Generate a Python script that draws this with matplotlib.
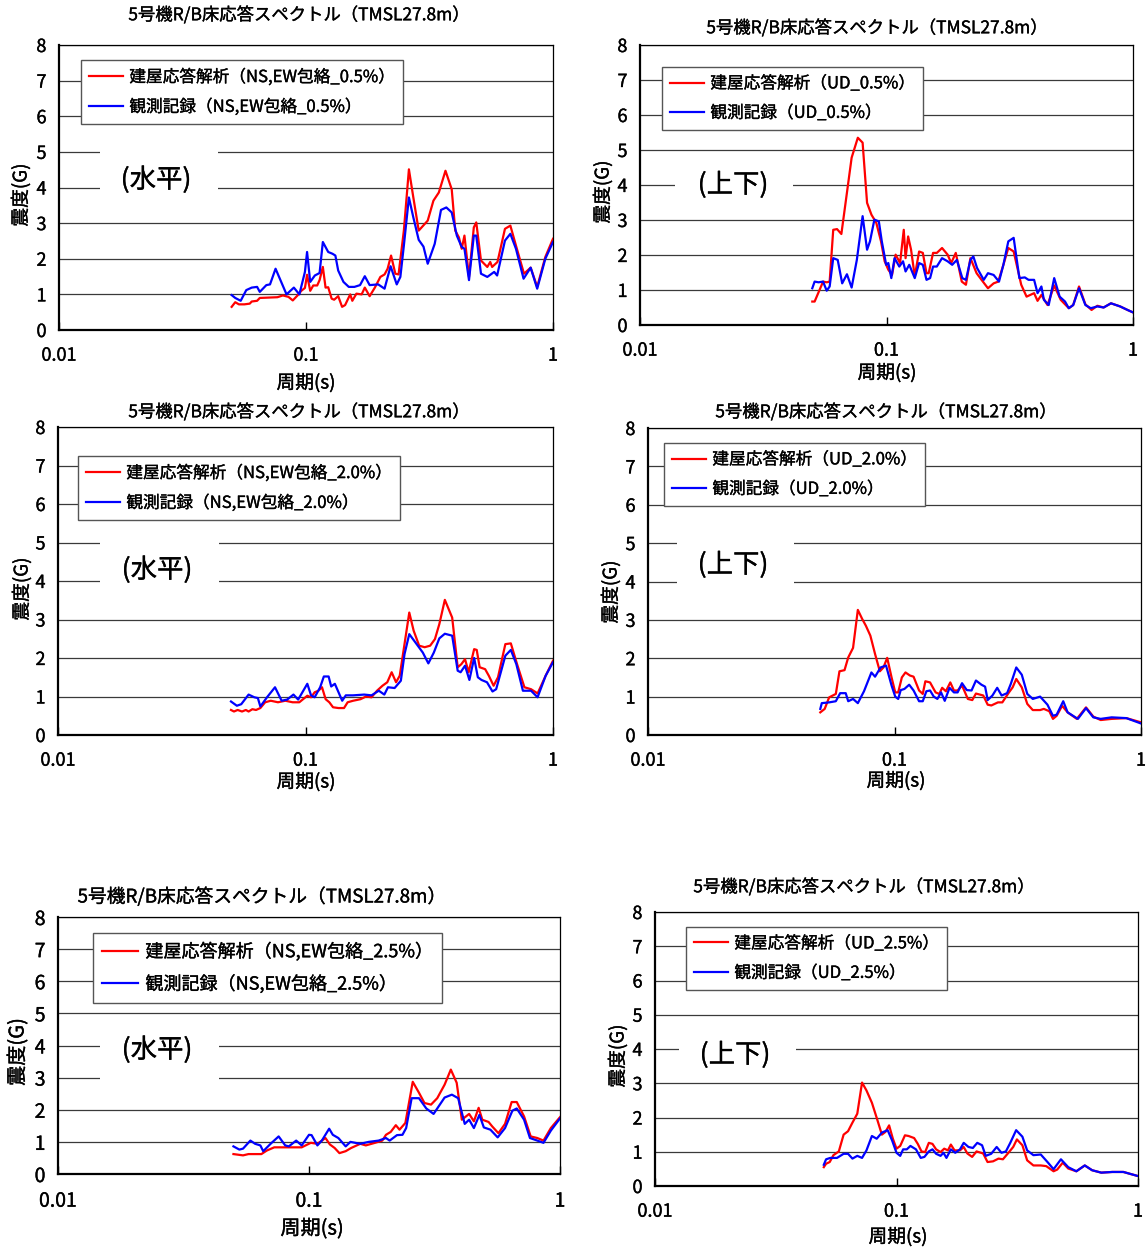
import matplotlib
matplotlib.use("Agg")
import matplotlib.pyplot as plt
import matplotlib.patheffects as pe
from matplotlib.patches import Rectangle
from matplotlib.ticker import NullLocator
from matplotlib.text import Text

plt.rcParams['font.family'] = ['Noto Sans CJK JP', 'DejaVu Sans']

# === Floor response spectra, R/B TMSL27.8m (period [s] -> acceleration [G]) ===

# horizontal, 0.5% damping
h05_ana_T = [0.05, 0.0517, 0.0535, 0.0563, 0.0592, 0.0603, 0.0634, 0.065, 0.0766, 0.0806,
             0.0849, 0.0884, 0.0924, 0.0957, 0.099, 0.101, 0.104, 0.107, 0.111, 0.1135,
             0.117, 0.120, 0.123, 0.127, 0.130, 0.135, 0.140, 0.144, 0.151, 0.154,
             0.160, 0.168, 0.173, 0.181, 0.190, 0.200, 0.208, 0.214, 0.221, 0.230,
             0.237, 0.249, 0.261, 0.272, 0.286, 0.311, 0.328, 0.345, 0.367, 0.389,
             0.402, 0.416, 0.427, 0.438, 0.457, 0.478, 0.489, 0.511, 0.542, 0.557,
             0.567, 0.596, 0.639, 0.672, 0.708, 0.763, 0.812, 0.863, 0.931, 1.0]
h05_ana = [0.65, 0.78, 0.72, 0.72, 0.74, 0.8, 0.82, 0.9, 0.92, 0.97,
           0.93, 0.83, 0.97, 1.1, 1.18, 1.55, 1.1, 1.25, 1.25, 1.4,
           1.77, 1.19, 1.2, 0.88, 0.85, 0.95, 0.65, 0.70, 1.0, 0.82,
           1.02, 1.0, 1.19, 0.95, 1.19, 1.49, 1.56, 1.72, 2.09, 1.58,
           1.56, 2.79, 4.51, 3.72, 2.79, 3.07, 3.63, 3.86, 4.47, 3.95,
           2.79, 2.6, 2.28, 2.65, 1.49, 2.88, 3.02, 1.95, 1.77, 1.91,
           1.77, 1.91, 2.84, 2.93, 2.37, 1.58, 1.75, 1.21, 2.05, 2.56]
h05_obs_T = [0.05, 0.0517, 0.0544, 0.0573, 0.0603, 0.0634, 0.065, 0.0691, 0.0715, 0.0753,
             0.0834, 0.0893, 0.094, 0.099, 0.101, 0.104, 0.1086, 0.1135, 0.117, 0.123,
             0.128, 0.1315, 0.135, 0.1418, 0.149, 0.157, 0.1655, 0.173, 0.181, 0.196,
             0.208, 0.220, 0.233, 0.241, 0.249, 0.261, 0.272, 0.286, 0.299, 0.311,
             0.332, 0.352, 0.370, 0.389, 0.408, 0.427, 0.438, 0.457, 0.478, 0.489,
             0.511, 0.542, 0.578, 0.594, 0.639, 0.672, 0.708, 0.760, 0.812, 0.863,
             0.931, 1.0]
h05_obs = [0.98, 0.9, 0.82, 1.12, 1.19, 1.21, 1.07, 1.26, 1.28, 1.72,
           1.0, 1.19, 1.0, 1.63, 2.19, 1.35, 1.53, 1.6, 2.47, 2.19,
           2.14, 2.09, 1.67, 1.35, 1.21, 1.21, 1.26, 1.51, 1.26, 1.28,
           1.16, 1.79, 1.28, 1.49, 2.37, 3.72, 3.16, 2.53, 2.34, 1.86,
           2.42, 3.37, 3.44, 3.3, 2.65, 2.33, 2.28, 1.4, 2.65, 2.65,
           1.58, 1.49, 1.63, 1.53, 2.51, 2.7, 2.28, 1.44, 1.75, 1.16,
           2.0, 2.47]

# vertical, 0.5% damping
v05_ana_T = [0.05, 0.0511, 0.0553, 0.0572, 0.0588, 0.0608, 0.063, 0.0656, 0.0691, 0.0722,
             0.0765, 0.080, 0.0834, 0.0869, 0.0909, 0.095, 0.0983, 0.1017, 0.1053, 0.1089,
             0.1135, 0.1175, 0.1195, 0.1224, 0.1258, 0.1302, 0.1356, 0.1404, 0.1453, 0.1483,
             0.1545, 0.160, 0.168, 0.177, 0.183, 0.191, 0.202, 0.210, 0.219, 0.232,
             0.243, 0.258, 0.272, 0.284, 0.298, 0.312, 0.328, 0.352, 0.370, 0.397,
             0.410, 0.425, 0.450, 0.479, 0.509, 0.549, 0.572, 0.604, 0.641, 0.679,
             0.717, 0.760, 0.814, 0.887, 0.950, 1.0]
v05_ana = [0.67, 0.67, 1.24, 1.22, 1.24, 2.72, 2.74, 2.60, 3.78, 4.78,
           5.35, 5.21, 3.49, 3.15, 2.92, 2.39, 1.82, 1.58, 1.43, 2.01,
           1.77, 2.72, 1.91, 2.53, 2.15, 1.39, 2.10, 2.06, 1.48, 1.48,
           2.06, 2.06, 2.20, 2.01, 1.77, 2.06, 1.24, 1.15, 1.91, 1.48,
           1.29, 1.05, 1.19, 1.24, 1.72, 2.20, 2.10, 1.15, 0.81, 0.91,
           0.69, 0.86, 0.57, 1.13, 0.72, 0.48, 0.57, 1.10, 0.59, 0.43,
           0.55, 0.50, 0.62, 0.53, 0.43, 0.36]
v05_obs_T = [0.05, 0.0511, 0.053, 0.0553, 0.0572, 0.0588, 0.0608, 0.0634, 0.0661, 0.0691,
             0.0722, 0.0758, 0.080, 0.0834, 0.0857, 0.0893, 0.0931, 0.0957, 0.0997, 0.1017,
             0.1046, 0.1078, 0.1127, 0.1167, 0.1195, 0.1237, 0.1302, 0.1356, 0.1404, 0.1453,
             0.1503, 0.1545, 0.160, 0.168, 0.177, 0.1847, 0.193, 0.203, 0.210, 0.219,
             0.225, 0.233, 0.248, 0.258, 0.272, 0.286, 0.298, 0.312, 0.328, 0.346,
             0.364, 0.377, 0.397, 0.410, 0.425, 0.435, 0.455, 0.479, 0.504, 0.530,
             0.549, 0.572, 0.604, 0.641, 0.674, 0.717, 0.760, 0.814, 0.887, 0.950,
             1.0]
v05_obs = [1.05, 1.24, 1.22, 1.24, 0.98, 1.10, 1.91, 1.86, 1.19, 1.45,
           1.07, 1.86, 3.11, 2.15, 2.39, 3.01, 2.96, 2.39, 1.72, 1.77,
           1.34, 1.91, 1.67, 1.82, 1.53, 1.72, 1.34, 1.77, 1.72, 1.29,
           1.34, 1.67, 1.67, 1.91, 1.82, 1.72, 1.86, 1.34, 1.29, 1.86,
           1.96, 1.63, 1.29, 1.48, 1.43, 1.24, 1.72, 2.39, 2.49, 1.34,
           1.36, 1.29, 1.29, 0.91, 1.10, 0.72, 0.57, 1.34, 0.81, 0.67,
           0.48, 0.57, 1.05, 0.57, 0.48, 0.53, 0.50, 0.62, 0.53, 0.43,
           0.36]

# horizontal, 2.0% damping
h20_ana_T = [0.05, 0.0514, 0.0532, 0.0554, 0.0574, 0.0589, 0.061, 0.0631, 0.0657, 0.0687,
             0.0724, 0.0774, 0.0829, 0.0887, 0.0944, 0.1017, 0.1053, 0.1089, 0.1127, 0.1166,
             0.1206, 0.1248, 0.1292, 0.1359, 0.1431, 0.148, 0.1558, 0.1668, 0.1756, 0.1848,
             0.1945, 0.2047, 0.214, 0.2229, 0.2322, 0.2403, 0.2512, 0.2626, 0.2735, 0.2879,
             0.303, 0.3189, 0.3334, 0.3473, 0.3656, 0.3914, 0.412, 0.4263, 0.4411, 0.4563,
             0.4802, 0.4918, 0.5054, 0.5319, 0.5503, 0.5754, 0.5995, 0.6419, 0.6755, 0.7158,
             0.7665, 0.815, 0.8665, 0.934, 1.0]
h20_ana = [0.65, 0.61, 0.65, 0.61, 0.65, 0.61, 0.67, 0.65, 0.70, 0.85,
           0.89, 0.85, 0.89, 0.85, 0.85, 1.02, 0.98, 1.11, 1.15, 1.24,
           0.93, 0.85, 0.72, 0.70, 0.70, 0.85, 0.89, 0.93, 1.0, 0.98,
           1.15, 1.28, 1.37, 1.63, 1.37, 1.54, 2.36, 3.18, 2.71, 2.32,
           2.28, 2.32, 2.49, 2.88, 3.51, 3.05, 1.76, 1.84, 1.97, 1.63,
           2.23, 2.21, 1.76, 1.71, 1.54, 1.28, 1.5, 2.36, 2.38, 1.84,
           1.24, 1.19, 1.08, 1.54, 1.93]
h20_obs_T = [0.05, 0.0528, 0.055, 0.0589, 0.0621, 0.0642, 0.0657, 0.0699, 0.0753, 0.0801,
             0.0843, 0.0894, 0.0934, 0.1017, 0.1053, 0.1089, 0.1146, 0.1186, 0.124, 0.127,
             0.1314, 0.1407, 0.1455, 0.1558, 0.1726, 0.1848, 0.1978, 0.2082, 0.2154, 0.2291,
             0.2428, 0.2512, 0.2626, 0.2783, 0.2979, 0.3136, 0.3299, 0.3473, 0.3656, 0.3914,
             0.412, 0.4234, 0.4411, 0.4594, 0.4802, 0.4969, 0.5141, 0.5411, 0.5696, 0.5893,
             0.6419, 0.6755, 0.711, 0.7558, 0.815, 0.8665, 0.934, 1.0]
h20_obs = [0.87, 0.76, 0.80, 1.05, 0.98, 0.96, 0.74, 0.98, 1.24, 0.89,
           0.92, 1.05, 0.92, 1.33, 1.03, 0.98, 1.24, 1.52, 1.52, 1.26,
           1.33, 0.89, 1.03, 1.03, 1.05, 1.03, 1.15, 1.05, 1.24, 1.22,
           1.41, 2.10, 2.62, 2.40, 2.14, 1.86, 2.14, 2.51, 2.63, 2.58,
           1.67, 1.63, 1.80, 1.43, 2.0, 1.50, 1.43, 1.37, 1.13, 1.19,
           2.06, 2.21, 1.84, 1.15, 1.15, 0.98, 1.54, 1.89]

# vertical, 2.0% damping
v20_ana_T = [0.05, 0.0521, 0.0543, 0.0578, 0.0598, 0.0627, 0.0649, 0.0679, 0.071, 0.074,
             0.0765, 0.0798, 0.0834, 0.0872, 0.0902, 0.0934, 0.0973, 0.1007, 0.1035, 0.1071,
             0.1108, 0.1155, 0.1195, 0.1258, 0.1302, 0.1334, 0.1394, 0.1468, 0.1519, 0.1561,
             0.1616, 0.1684, 0.1742, 0.1803, 0.1879, 0.1984, 0.2068, 0.214, 0.2291, 0.2388,
             0.2471, 0.2628, 0.2738, 0.2913, 0.3014, 0.3119, 0.3284, 0.3457, 0.3639, 0.3898,
             0.4034, 0.4246, 0.4394, 0.4548, 0.4787, 0.5039, 0.549, 0.5983, 0.6405, 0.6861,
             0.7603, 0.872, 1.0]
v20_ana = [0.59, 0.68, 0.98, 1.07, 1.66, 1.69, 2.02, 2.27, 3.26, 3.02,
           2.85, 2.59, 2.11, 1.66, 1.76, 2.01, 1.50, 1.11, 1.11, 1.50,
           1.63, 1.55, 1.52, 1.16, 1.07, 1.40, 1.37, 1.11, 1.07, 1.23,
           1.14, 1.37, 1.16, 1.16, 1.29, 0.94, 0.91, 1.08, 1.03, 0.79,
           0.77, 0.85, 0.85, 1.11, 1.24, 1.46, 1.24, 0.81, 0.65, 0.65,
           0.68, 0.62, 0.42, 0.50, 0.76, 0.59, 0.42, 0.72, 0.48, 0.39,
           0.42, 0.44, 0.33]
v20_obs_T = [0.05, 0.0507, 0.0543, 0.0578, 0.0602, 0.0634, 0.0649, 0.0679, 0.071, 0.0752,
             0.0806, 0.0834, 0.0878, 0.0924, 0.0973, 0.1007, 0.1035, 0.106, 0.1097, 0.1147,
             0.1195, 0.1258, 0.1302, 0.1347, 0.1394, 0.1443, 0.1493, 0.1545, 0.1599, 0.1672,
             0.1742, 0.1803, 0.1879, 0.1964, 0.2054, 0.214, 0.2253, 0.2331, 0.2388, 0.2497,
             0.261, 0.272, 0.2863, 0.2963, 0.3119, 0.3284, 0.3457, 0.3639, 0.3898, 0.4174,
             0.4394, 0.4548, 0.4836, 0.5039, 0.5546, 0.5983, 0.6405, 0.6861, 0.7603, 0.872,
             1.0]
v20_obs = [0.68, 0.83, 0.85, 0.88, 1.09, 1.09, 0.88, 0.94, 0.83, 1.14,
           1.63, 1.52, 1.76, 1.81, 1.29, 1.0, 0.94, 1.17, 1.20, 1.31,
           1.16, 0.88, 0.88, 1.14, 1.16, 1.0, 0.94, 1.11, 0.89, 1.23,
           1.11, 1.11, 1.35, 1.17, 1.16, 1.42, 1.31, 1.26, 0.91, 1.03,
           1.23, 1.03, 1.09, 1.33, 1.76, 1.57, 1.07, 0.94, 1.0, 0.79,
           0.50, 0.53, 0.88, 0.59, 0.42, 0.70, 0.46, 0.42, 0.46, 0.44,
           0.30]

# horizontal, 2.5% damping
h25_ana_T = [0.05, 0.0546, 0.0574, 0.0646, 0.0679, 0.0727, 0.0831, 0.0935, 0.1017, 0.108,
             0.1163, 0.1211, 0.1265, 0.1322, 0.14, 0.1472, 0.1601, 0.1684, 0.1831, 0.1959,
             0.2026, 0.2116, 0.2218, 0.2294, 0.2421, 0.259, 0.2742, 0.2884, 0.3063, 0.3243,
             0.3469, 0.3673, 0.3876, 0.4063, 0.4345, 0.4539, 0.4741, 0.4903, 0.5193, 0.5371,
             0.5684, 0.604, 0.6417, 0.6725, 0.7193, 0.7642, 0.812, 0.8596, 0.9194, 1.0]
h25_ana = [0.62, 0.58, 0.62, 0.62, 0.73, 0.83, 0.83, 0.83, 0.97, 0.94,
           1.12, 0.92, 0.81, 0.65, 0.71, 0.81, 0.94, 0.89, 0.97, 1.04,
           1.22, 1.31, 1.52, 1.38, 1.59, 2.87, 2.53, 2.21, 2.16, 2.36,
           2.78, 3.25, 2.84, 1.69, 1.87, 1.64, 2.06, 1.69, 1.62, 1.48,
           1.27, 1.56, 2.24, 2.24, 1.79, 1.17, 1.12, 1.04, 1.43, 1.77]
h25_obs_T = [0.05, 0.0528, 0.0546, 0.0584, 0.061, 0.064, 0.0657, 0.0703, 0.0757, 0.0804,
             0.0831, 0.0889, 0.0935, 0.1, 0.1024, 0.108, 0.1125, 0.1203, 0.1244, 0.1309,
             0.14, 0.1462, 0.1601, 0.173, 0.1894, 0.2026, 0.2096, 0.2241, 0.2357, 0.2438,
             0.2564, 0.2742, 0.2933, 0.3136, 0.3243, 0.3469, 0.3709, 0.3929, 0.4173, 0.4345,
             0.4539, 0.4774, 0.4972, 0.5281, 0.5646, 0.604, 0.646, 0.6725, 0.7193, 0.7591,
             0.812, 0.8596, 0.9194, 1.0]
h25_obs = [0.86, 0.76, 0.79, 1.04, 0.94, 0.89, 0.71, 0.94, 1.17, 0.89,
           0.86, 1.04, 0.89, 1.22, 1.21, 0.89, 1.04, 1.41, 1.22, 1.12,
           0.86, 1.0, 0.94, 1.0, 1.04, 1.12, 1.04, 1.21, 1.22, 1.43,
           2.36, 2.36, 2.04, 1.87, 2.04, 2.38, 2.47, 2.36, 1.56, 1.69,
           1.43, 1.84, 1.45, 1.38, 1.14, 1.43, 1.97, 2.04, 1.69, 1.12,
           1.04, 0.97, 1.35, 1.73]

# vertical, 2.5% damping
v25_ana_T = [0.05, 0.0511, 0.0529, 0.0548, 0.0577, 0.0604, 0.063, 0.0657, 0.0688, 0.072,
             0.0751, 0.0791, 0.0828, 0.087, 0.09, 0.0932, 0.0966, 0.1, 0.1036, 0.1084,
             0.1122, 0.1183, 0.1225, 0.1269, 0.1314, 0.1361, 0.1409, 0.1459, 0.1522, 0.1576,
             0.1633, 0.1679, 0.1739, 0.1832, 0.1898, 0.1965, 0.2057, 0.2145, 0.2285, 0.2382,
             0.251, 0.2645, 0.2759, 0.2939, 0.3043, 0.3152, 0.3321, 0.3475, 0.3689, 0.3957,
             0.4169, 0.4471, 0.463, 0.4879, 0.5142, 0.5555, 0.602, 0.6457, 0.7047, 0.7829,
             0.8697, 1.0]
v25_ana = [0.55, 0.65, 0.70, 0.90, 1.01, 1.50, 1.60, 1.85, 2.11, 3.02,
           2.79, 2.43, 1.99, 1.50, 1.58, 1.77, 1.38, 1.09, 1.17, 1.48,
           1.46, 1.40, 1.23, 1.01, 0.99, 1.26, 1.23, 1.07, 0.99, 1.09,
           1.04, 1.21, 1.04, 1.04, 1.14, 0.95, 0.85, 1.01, 0.95, 0.70,
           0.72, 0.80, 0.78, 1.01, 1.14, 1.36, 1.19, 0.75, 0.60, 0.60,
           0.58, 0.43, 0.48, 0.68, 0.51, 0.43, 0.60, 0.46, 0.39, 0.41,
           0.41, 0.29]
v25_obs_T = [0.05, 0.0511, 0.0532, 0.0567, 0.0604, 0.063, 0.0657, 0.0688, 0.072, 0.0751,
             0.0791, 0.0828, 0.087, 0.0919, 0.0959, 0.1, 0.1036, 0.1065, 0.1103, 0.1142,
             0.1204, 0.126, 0.1305, 0.1361, 0.1409, 0.1459, 0.1522, 0.1565, 0.161, 0.1679,
             0.1751, 0.1832, 0.1898, 0.1986, 0.2071, 0.216, 0.2261, 0.2341, 0.2466, 0.2599,
             0.2721, 0.2838, 0.2959, 0.3129, 0.3321, 0.3475, 0.3689, 0.3957, 0.4243, 0.4471,
             0.4796, 0.5142, 0.5555, 0.602, 0.6457, 0.7047, 0.7829, 0.8697, 1.0]
v25_obs = [0.62, 0.78, 0.82, 0.82, 0.94, 0.94, 0.80, 0.88, 0.82, 1.04,
           1.46, 1.38, 1.56, 1.63, 1.33, 0.97, 0.88, 1.07, 1.07, 1.17,
           1.07, 0.82, 0.85, 1.01, 1.07, 0.94, 0.88, 0.97, 0.82, 1.07,
           0.97, 1.07, 1.26, 1.14, 1.11, 1.26, 1.19, 0.88, 0.94, 1.14,
           0.97, 1.01, 1.26, 1.63, 1.44, 1.04, 0.90, 0.92, 0.68, 0.49,
           0.78, 0.55, 0.43, 0.60, 0.46, 0.39, 0.41, 0.41, 0.29]

TITLE = "5号機R/B床応答スペクトル（TMSL27.8m）"
XTICKS = [0.01, 0.1, 1]
XTICK_LABELS = ["0.01", "0.1", "1"]
YTICKS = list(range(0, 9))

W, H = 1148, 1247
fig = plt.figure(figsize=(W / 100, H / 100), dpi=100)
fig.patch.set_facecolor("white")


def fx(x):
    return x / W


def fy(y):
    return 1 - y / H


def draw_panel(rect, ana, obs, labels, tag, title_xy, xlab_xy, ylab_xy,
               leg_xy, tagbox, tag_xy, fs=12, xpad=12):
    l, t, r, b = rect
    ax = fig.add_axes([fx(l), fy(b), (r - l) / W, (b - t) / H])
    ax.set_xscale("log")
    ax.set_xlim(0.01, 1)
    ax.set_ylim(0, 8)
    ax.set_xticks(XTICKS)
    ax.set_xticklabels(XTICK_LABELS)
    ax.xaxis.set_minor_locator(NullLocator())
    ax.set_yticks(YTICKS)
    ax.tick_params(axis="x", direction="in", length=6, width=1, pad=xpad, labelsize=fs + 1)
    ax.tick_params(axis="y", length=0, pad=9, labelsize=fs + 1)
    ax.set_axisbelow(True)
    ax.yaxis.grid(True, color="#3a3a3a", lw=0.9)
    for side in ("left", "bottom"):
        ax.spines[side].set_linewidth(1.6)
    for side in ("top", "right"):
        ax.spines[side].set_linewidth(0.9)

    # white patch behind the direction tag
    bl, bt, br, bb = tagbox
    ax.add_patch(Rectangle(((bl - l) / (r - l), (b - bb) / (b - t)),
                           (br - bl) / (r - l), (bb - bt) / (b - t),
                           transform=ax.transAxes, facecolor="white",
                           edgecolor="none", zorder=1))
    ax.text((tag_xy[0] - l) / (r - l), (b - tag_xy[1]) / (b - t), tag,
            transform=ax.transAxes, ha="center", va="center",
            fontsize=19, zorder=2)

    ax.plot(ana[0], ana[1], color="#ff0000", lw=1.6, label=labels[0], zorder=3)
    ax.plot(obs[0], obs[1], color="#0000ff", lw=1.6, label=labels[1], zorder=3)

    leg = ax.legend(loc="upper left",
                    bbox_to_anchor=((leg_xy[0] - l) / (r - l), (b - leg_xy[1]) / (b - t)),
                    borderaxespad=0, fancybox=False, framealpha=1,
                    edgecolor="#555555", fontsize=fs, handlelength=2.0,
                    handletextpad=0.4, labelspacing=0.75, borderpad=0.5)
    leg.get_frame().set_linewidth(1.0)

    fig.text(fx(title_xy[0]), fy(title_xy[1]), TITLE, ha="center", va="center", fontsize=fs + 0.5)
    fig.text(fx(xlab_xy[0]), fy(xlab_xy[1]), "周期(s)", ha="center", va="center", fontsize=fs + 1.5)
    fig.text(fx(ylab_xy[0]), fy(ylab_xy[1]), "震度(G)", ha="center", va="center",
             rotation=90, fontsize=fs + 1.5)
    return ax


# top row: 0.5%
draw_panel((59, 45, 553, 330), (h05_ana_T, h05_ana), (h05_obs_T, h05_obs),
           ("建屋応答解析（NS,EW包絡_0.5%）", "観測記録（NS,EW包絡_0.5%）"), "(水平)",
           (299, 15), (306, 383), (21, 195), (81, 60),
           (100, 140, 218, 205), (156, 180))
draw_panel((640, 45, 1133, 325), (v05_ana_T, v05_ana), (v05_obs_T, v05_obs),
           ("建屋応答解析（UD_0.5%）", "観測記録（UD_0.5%）"), "(上下)",
           (877, 28), (887, 373), (603, 192), (662, 67),
           (675, 163, 793, 208), (733, 185))

# middle row: 2.0%
draw_panel((58, 427, 553, 735), (h20_ana_T, h20_ana), (h20_obs_T, h20_obs),
           ("建屋応答解析（NS,EW包絡_2.0%）", "観測記録（NS,EW包絡_2.0%）"), "(水平)",
           (299, 412), (306, 782), (22, 589), (78, 456),
           (100, 530, 219, 600), (157, 570))
draw_panel((648, 428, 1141, 735), (v20_ana_T, v20_ana), (v20_obs_T, v20_obs),
           ("建屋応答解析（UD_2.0%）", "観測記録（UD_2.0%）"), "(上下)",
           (886, 412), (896, 781), (611, 592), (664, 443),
           (677, 530, 794, 600), (733, 565))

# bottom row: 2.5%
draw_panel((58, 917, 560, 1174), (h25_ana_T, h25_ana), (h25_obs_T, h25_obs),
           ("建屋応答解析（NS,EW包絡_2.5%）", "観測記録（NS,EW包絡_2.5%）"), "(水平)",
           (262, 897), (312, 1229), (18, 1052), (93, 933),
           (100, 1022, 219, 1080), (157, 1050), fs=13)
draw_panel((655, 912, 1138, 1186), (v25_ana_T, v25_ana), (v25_obs_T, v25_obs),
           ("建屋応答解析（UD_2.5%）", "観測記録（UD_2.5%）"), "(上下)",
           (864, 887), (898, 1237), (618, 1056), (686, 927),
           (679, 1025, 796, 1075), (735, 1055))

# a touch heavier than the regular weight
for txt in fig.findobj(Text):
    txt.set_path_effects([pe.withStroke(linewidth=0.25, foreground="black")])

fig.savefig("out.png", dpi=100)
